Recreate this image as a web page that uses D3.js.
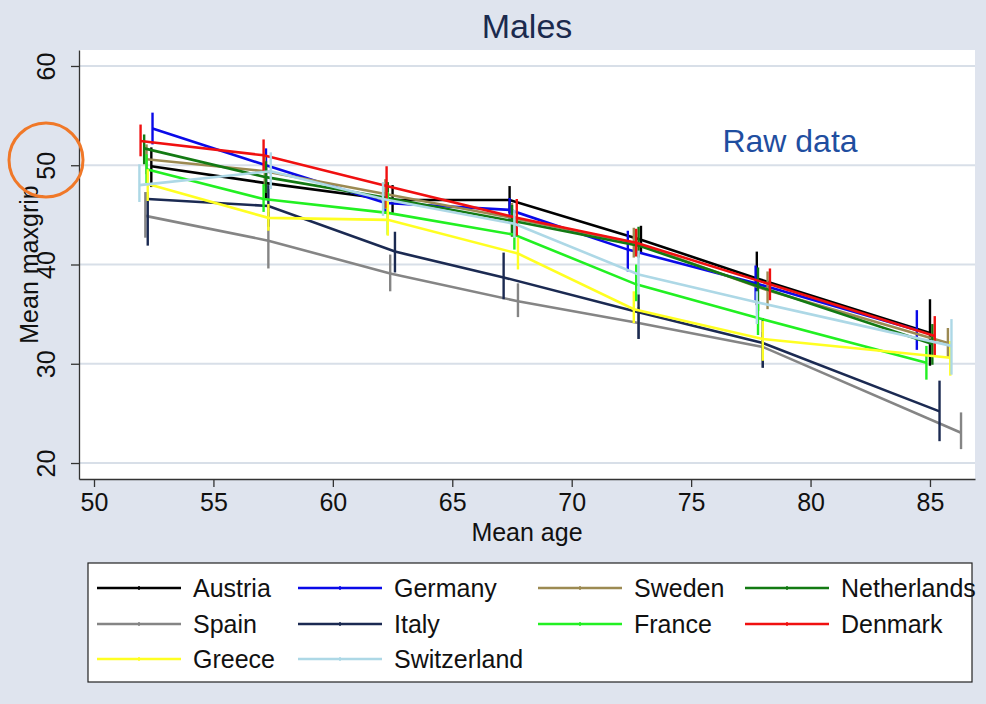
<!DOCTYPE html>
<html>
<head>
<meta charset="utf-8">
<script src="https://cdn.jsdelivr.net/npm/d3@7"></script>
<style>
  body { margin: 0; background: #dfe4ee; }
  svg { display: block; font-family: "Liberation Sans", Arial, sans-serif; }
</style>
</head>
<body>
<svg width="986" height="704"></svg>
<script>
const svg = d3.select("svg");

// countries in plotting / legend order
const countries = ["Austria", "Germany", "Sweden", "Netherlands", "Spain",
    "Italy", "France", "Denmark", "Greece", "Switzerland"];
const colors = ["#000000", "#0a0ae8", "#9c8a52", "#137a13", "#858585",
    "#1b2a52", "#22f022", "#f01010", "#ffff22", "#add8e6"];

// mean age of each group, per country
const ages = [
    [52.4, 57.2, 62.5, 67.4, 72.9, 77.75, 85.0],
    [52.45, 57.2, 62.2, 67.4, 72.35, 77.7, 84.45],
    [52.2, 57.15, 62.2, 67.5, 72.6, 78.2, 85.75],
    [52.1, 57.2, 62.3, 67.5, 72.8, 77.8, 85.1],
    [52.15, 57.3, 62.4, 67.75, 72.8, 78.0, 86.3],
    [52.25, 57.3, 62.6, 67.15, 72.8, 78.0, 85.4],
    [52.2, 57.1, 62.3, 67.6, 72.7, 77.8, 84.85],
    [51.95, 57.1, 62.25, 67.7, 72.7, 78.3, 85.2],
    [52.25, 57.3, 62.3, 67.75, 72.6, 78.0, 85.85],
    [51.9, 57.4, 62.1, 67.6, 72.8, 77.75, 85.9]
];
// mean maxgrip
const means = [
    [49.9, 48.2, 46.5, 46.5, 42.5, 38.6, 33.1],
    [53.7, 50.0, 46.2, 45.5, 41.5, 38.1, 33.4],
    [50.6, 49.4, 47.1, 44.7, 42.2, 37.4, 32.1],
    [51.7, 48.8, 46.7, 44.4, 41.9, 37.8, 32.0],
    [44.9, 42.4, 39.1, 36.3, 34.1, 31.7, 23.05],
    [46.6, 45.9, 41.3, 38.7, 35.2, 32.1, 25.2],
    [49.6, 46.6, 45.2, 43.0, 38.0, 34.6, 30.1],
    [52.45, 51.0, 47.9, 44.7, 42.2, 38.0, 32.8],
    [48.1, 44.7, 44.5, 41.1, 35.5, 32.5, 30.6],
    [48.0, 49.4, 46.6, 44.1, 39.0, 36.2, 31.8]
];
// lower and upper ends of the vertical bars
const lows = [
    [47.8, 46.5, 45.2, 45.2, 41.2, 35.9, 29.8],
    [52.1, 48.3, 45.1, 44.3, 39.3, 36.4, 31.4],
    [49.1, 47.9, 45.6, 43.2, 40.7, 35.5, 30.7],
    [50.1, 47.2, 45.1, 42.8, 40.7, 35.3, 29.9],
    [42.7, 39.6, 37.3, 34.7, 32.5, 29.6, 21.4],
    [41.9, 43.8, 39.2, 36.5, 32.5, 29.6, 22.2],
    [48.2, 45.3, 43.0, 41.5, 36.3, 32.9, 28.4],
    [50.9, 49.4, 45.7, 42.9, 40.8, 36.4, 30.8],
    [46.4, 43.4, 42.9, 39.5, 34.1, 30.3, 28.8],
    [46.3, 47.6, 44.9, 42.7, 37.0, 34.0, 28.9]
];
const highs = [
    [51.8, 49.9, 48.0, 47.9, 43.9, 41.3, 36.5],
    [55.3, 51.7, 47.3, 46.7, 43.4, 39.9, 35.4],
    [52.1, 50.9, 48.6, 46.2, 43.7, 39.3, 33.6],
    [53.1, 50.4, 48.3, 46.0, 43.8, 39.7, 34.0],
    [47.3, 45.3, 41.0, 38.1, 35.7, 33.2, 25.1],
    [47.3, 48.0, 43.3, 41.2, 37.0, 34.6, 28.3],
    [51.1, 48.1, 47.3, 44.5, 40.0, 36.3, 31.8],
    [54.1, 52.6, 49.9, 46.6, 43.6, 39.6, 34.8],
    [49.6, 46.1, 46.4, 42.7, 37.3, 34.3, 32.3],
    [50.1, 51.3, 48.3, 45.5, 41.4, 37.3, 34.5]
];

const xTicks = [50, 55, 60, 65, 70, 75, 80, 85];
const yTicks = [20, 30, 40, 50, 60];

const plotLeft = 79, plotRight = 975, plotTop = 50, plotBottom = 479;

const x = d3.scaleLinear().domain([49.372, 86.885]).range([plotLeft, plotRight]);
const y = d3.scaleLinear().domain([18.39, 61.61]).range([plotBottom, plotTop]);

// plot region
svg.append("rect")
    .attr("x", plotLeft).attr("y", plotTop)
    .attr("width", plotRight - plotLeft).attr("height", plotBottom - plotTop)
    .attr("fill", "white");

// grid
svg.append("g")
    .selectAll("line")
    .data(yTicks)
    .enter().append("line")
        .attr("x1", plotLeft).attr("x2", plotRight)
        .attr("y1", d => y(d)).attr("y2", d => y(d))
        .attr("stroke", "#d8dfe8")
        .attr("stroke-width", 2);

// axes
const xAxis = svg.append("g")
    .attr("transform", `translate(0,${plotBottom})`)
    .call(d3.axisBottom(x).tickValues(xTicks).tickSize(8).tickPadding(6).tickSizeOuter(0));
const yAxis = svg.append("g")
    .attr("transform", `translate(${plotLeft},0)`)
    .call(d3.axisLeft(y).tickValues(yTicks).tickSize(8).tickPadding(4).tickSizeOuter(0));

[xAxis, yAxis].forEach(a => {
    a.select(".domain").attr("stroke", "#333").attr("stroke-width", 1.3);
    a.selectAll(".tick line").attr("stroke", "#333").attr("stroke-width", 1.3);
    a.selectAll(".tick text")
        .attr("font-size", 25)
        .attr("fill", "#111")
        .attr("font-family", "Liberation Sans, Arial, sans-serif");
});

yAxis.selectAll(".tick text")
    .attr("text-anchor", "middle")
    .attr("x", 0).attr("dy", 0)
    .attr("transform", "translate(-24,0) rotate(-90)");

// series lines
const line = d3.line()
    .x(d => x(d[0]))
    .y(d => y(d[1]));

const series = countries.map((c, i) => ({
    name: c,
    color: colors[i],
    points: ages[i].map((a, j) => [a, means[i][j], lows[i][j], highs[i][j]])
}));

const seriesG = svg.append("g")
    .selectAll("g")
    .data(series)
    .enter().append("g");

seriesG.append("path")
    .attr("d", d => line(d.points))
    .attr("fill", "none")
    .attr("stroke", d => d.color)
    .attr("stroke-width", 2.6);

seriesG.selectAll("line")
    .data(d => d.points.map(p => ({p: p, color: d.color})))
    .enter().append("line")
        .attr("x1", d => x(d.p[0])).attr("x2", d => x(d.p[0]))
        .attr("y1", d => y(d.p[2])).attr("y2", d => y(d.p[3]))
        .attr("stroke", d => d.color)
        .attr("stroke-width", 2.4);

// titles
svg.append("text")
    .attr("x", (plotLeft + plotRight) / 2).attr("y", 38)
    .attr("text-anchor", "middle")
    .attr("font-size", 34)
    .attr("fill", "#1b2a4e")
    .text("Males");

svg.append("text")
    .attr("x", (plotLeft + plotRight) / 2).attr("y", 541)
    .attr("text-anchor", "middle")
    .attr("font-size", 25)
    .attr("fill", "#111")
    .text("Mean age");

svg.append("text")
    .attr("transform", `translate(38,${(plotTop + plotBottom) / 2}) rotate(-90)`)
    .attr("text-anchor", "middle")
    .attr("font-size", 25)
    .attr("fill", "#111")
    .text("Mean maxgrip");

svg.append("text")
    .attr("x", 790).attr("y", 152)
    .attr("text-anchor", "middle")
    .attr("font-size", 32)
    .attr("fill", "#1f4ea0")
    .text("Raw data");

// orange highlight circle
svg.append("circle")
    .attr("cx", 46).attr("cy", 160).attr("r", 37)
    .attr("fill", "none")
    .attr("stroke", "#f07828")
    .attr("stroke-width", 3);

// legend
svg.append("rect")
    .attr("x", 88).attr("y", 563)
    .attr("width", 884).attr("height", 119)
    .attr("fill", "white")
    .attr("stroke", "#222")
    .attr("stroke-width", 1.2);

const colX = [97, 298, 538, 745];
const rowY = [588, 624, 659];

const legendG = svg.append("g")
    .selectAll("g")
    .data(series)
    .enter().append("g")
        .attr("transform", (d, i) => `translate(${colX[i % 4]},${rowY[Math.floor(i / 4)]})`);

legendG.append("line")
    .attr("x1", 0).attr("x2", 84)
    .attr("stroke", d => d.color)
    .attr("stroke-width", 2.6);

legendG.append("line")
    .attr("x1", 42).attr("x2", 42)
    .attr("y1", -2).attr("y2", 2)
    .attr("stroke", d => d.color)
    .attr("stroke-width", 1.5);

legendG.append("text")
    .attr("x", 96)
    .attr("y", 9)
    .attr("font-size", 25)
    .attr("fill", "#111")
    .text(d => d.name);
</script>
</body>
</html>
